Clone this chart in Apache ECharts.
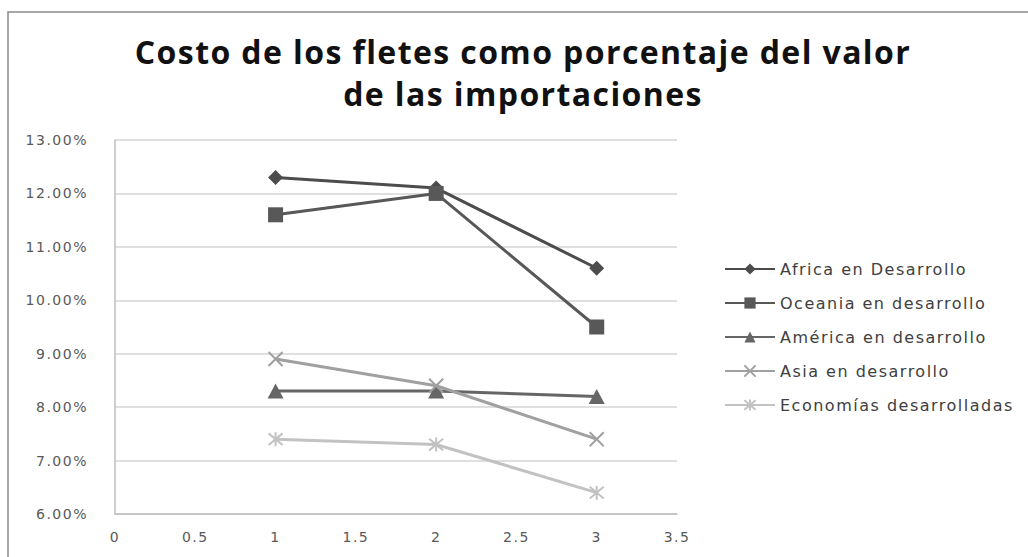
<!DOCTYPE html>
<html>
<head>
<meta charset="utf-8">
<script src="https://cdn.jsdelivr.net/npm/echarts@6/dist/echarts.min.js"></script>
<style>
  html, body { margin: 0; padding: 0; background: #fff; }
  #chart { width: 1028px; height: 557px; }
  #chart svg text { letter-spacing: 1.5px; }
  #chart svg text[style*="bold"] { letter-spacing: 1.4px; }
</style>
</head>
<body>
<div id="chart"></div>
<script>
// Freight cost as a share of import value, by region
const periods = [1, 2, 3];
const seriesNames = [
  'Africa en Desarrollo',
  'Oceania en desarrollo',
  'América en desarrollo',
  'Asia en desarrollo',
  'Economías desarrolladas'
];
const africa = [12.3, 12.1, 10.6];
const oceania = [11.6, 12.0, 9.5];
const america = [8.3, 8.3, 8.2];
const asia = [8.9, 8.4, 7.4];
const economias = [7.4, 7.3, 6.4];
const titleLines = ['Costo de los fletes como porcentaje del valor', 'de las importaciones'];

const seriesValues = [africa, oceania, america, asia, economias];
const colors = ['#4c4c4c', '#585858', '#666666', '#a0a0a0', '#c2c2c2'];
const symbols = [
  'diamond',
  'rect',
  'triangle',
  'path://M0,0L10,10M10,0L0,10',
  'path://M0,0L10,10M10,0L0,10M5,-1L5,11'
];
const symbolSizes = [[15, 15], [15, 15], [16, 15], [14, 14], [14, 14]];
const strokeOnly = [false, false, false, true, true];

const chart = echarts.init(document.getElementById('chart'), null, { renderer: 'svg' });

const series = seriesNames.map((name, i) => ({
  name,
  type: 'line',
  data: periods.map((p, k) => [p, seriesValues[i][k]]),
  symbol: symbols[i],
  symbolSize: symbolSizes[i],
  lineStyle: { color: colors[i], width: 3 },
  itemStyle: strokeOnly[i]
    ? { color: colors[i], borderColor: colors[i], borderWidth: 2 }
    : { color: colors[i] },
  emphasis: { disabled: true },
  animation: false
}));

chart.setOption({
  backgroundColor: '#ffffff',
  animation: false,
  color: colors,
  graphic: [{
    type: 'rect',
    shape: { x: 8, y: 12, width: 1100, height: 600 },
    style: { fill: 'none', stroke: '#8a8a8a', lineWidth: 1.5 },
    silent: true,
    z: -1
  }],
  title: {
    text: titleLines.join('\n'),
    left: 523,
    textAlign: 'center',
    top: 30,
    padding: 0,
    textStyle: {
      fontFamily: 'Open Sans',
      fontWeight: 'bold',
      fontSize: 32,
      lineHeight: 42,
      color: '#111111'
    }
  },
  legend: {
    orient: 'vertical',
    left: 719,
    top: 256,
    itemWidth: 50,
    itemHeight: 14,
    itemGap: 18,
    textStyle: {
      fontFamily: 'DejaVu Sans',
      fontSize: 16,
      color: '#404040'
    },
    data: seriesNames
  },
  grid: {
    left: 115,
    right: 351,
    top: 140,
    bottom: 43,
    containLabel: false
  },
  xAxis: {
    type: 'value',
    min: 0,
    max: 3.5,
    interval: 0.5,
    axisLine: { show: true, lineStyle: { color: '#bfbfbf', width: 1.5 } },
    axisTick: { show: false },
    splitLine: { show: false },
    axisLabel: {
      margin: 16,
      fontFamily: 'DejaVu Sans',
      fontSize: 14,
      color: '#595959'
    }
  },
  yAxis: {
    type: 'value',
    min: 6,
    max: 13,
    interval: 1,
    axisLine: { show: true, lineStyle: { color: '#bfbfbf', width: 1.5 } },
    axisTick: { show: false },
    splitLine: { show: true, lineStyle: { color: '#d4d4d4', width: 1.5 } },
    axisLabel: {
      margin: 27,
      fontFamily: 'DejaVu Sans',
      fontSize: 14,
      color: '#595959',
      formatter: v => v.toFixed(2) + '%'
    }
  },
  series
});
</script>
</body>
</html>
